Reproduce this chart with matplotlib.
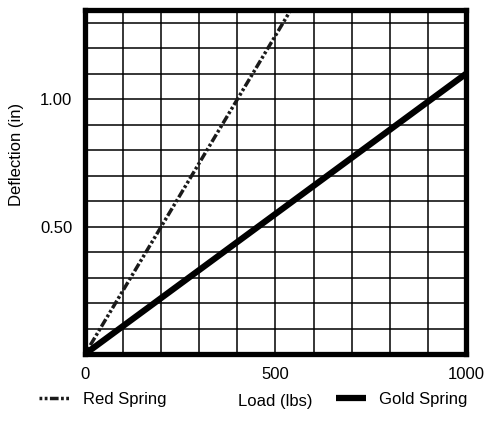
import numpy as np
import matplotlib.pyplot as plt
from matplotlib.ticker import MultipleLocator

plt.rcParams['font.family'] = ['Liberation Sans', 'DejaVu Sans']

# datos
load = [0, 1000]
red_spring = [0, 2.5]
gold_spring = [0, 1.1]
x_ticks = [0, 500, 1000]
x_labels = ['0', '500', '1000']
y_ticks = [0.5, 1.0]
y_labels = ['0.50', '1.00']

fig = plt.figure(figsize=(4.84, 4.22), dpi=100)
ax = fig.add_axes([0.1756, 0.161, 0.787, 0.815])

red, = ax.plot(load, red_spring, color='#1a1a1a', lw=2.5,
               dashes=(0.8, 0.7, 0.8, 0.7, 2.5, 0.7), solid_capstyle='butt')
gold, = ax.plot(load, gold_spring, color='black', lw=4.5, solid_capstyle='butt')

ax.set_xlim(0, 1000)
ax.set_ylim(0, 1.35)
ax.set_xticks(x_ticks)
ax.set_xticklabels(x_labels)
ax.set_yticks(y_ticks)
ax.set_yticklabels(y_labels)
ax.xaxis.set_minor_locator(MultipleLocator(100))
ax.yaxis.set_minor_locator(MultipleLocator(0.1))
ax.grid(True, which='both', color='black', lw=1.1)
ax.set_axisbelow(True)
ax.tick_params(which='both', length=0, labelsize=12, pad=9)

for s in ax.spines.values():
    s.set_linewidth(3.8)

ax.set_xlabel('Load (lbs)', fontsize=12, labelpad=9)
ax.set_ylabel('Deflection (in)', fontsize=12, labelpad=12)
ax.yaxis.set_label_coords(-0.16, 0.58)

fig.legend([red, gold], ['Red Spring', 'Gold Spring'], loc='lower left',
           bbox_to_anchor=(0.05, 0.0), ncol=2, frameon=False, fontsize=12,
           handlelength=1.8, handletextpad=0.8, columnspacing=10.2)

plt.savefig('out.png', dpi=100)
